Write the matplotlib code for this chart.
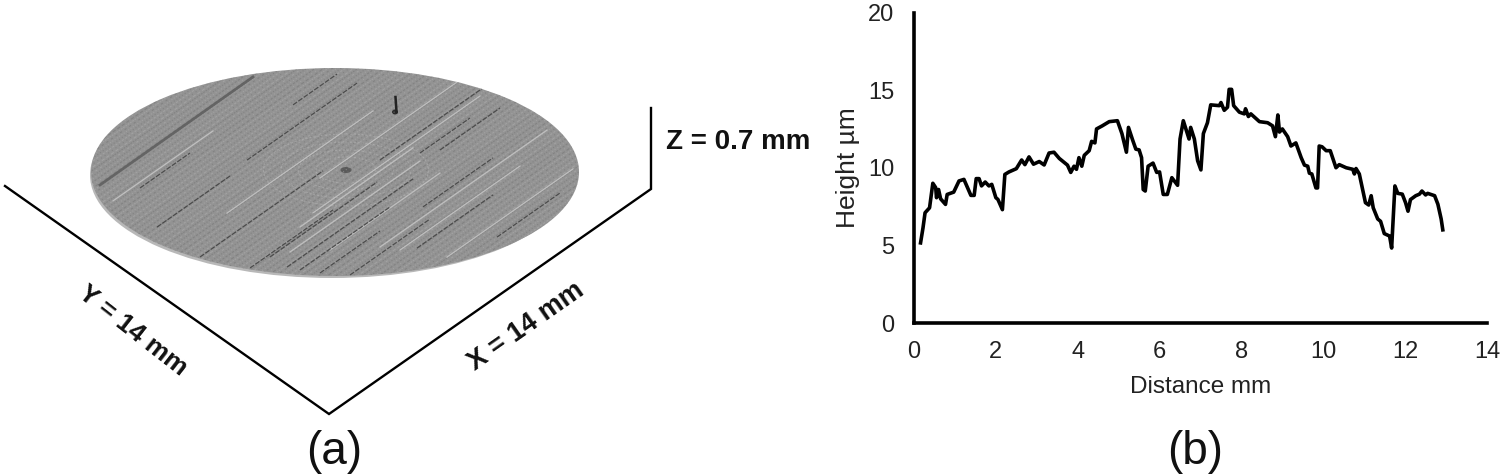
import matplotlib
matplotlib.use("Agg")
import matplotlib.pyplot as plt
from matplotlib.patches import Ellipse
import numpy as np

plt.rcParams['font.family'] = ['Liberation Sans', 'DejaVu Sans']

W, H = 1502, 475

# surface profile
distance = [0.16, 0.22, 0.27, 0.38, 0.46, 0.53, 0.55, 0.60, 0.65, 0.77, 0.81, 0.97, 1.10, 1.22, 1.39, 1.47,
            1.52, 1.59, 1.65, 1.74, 1.83, 1.90, 2.00, 2.05, 2.16, 2.22, 2.32, 2.50, 2.63, 2.71, 2.81, 2.92,
            3.06, 3.18, 3.30, 3.42, 3.55, 3.75, 3.83, 3.91, 3.97, 4.03, 4.10, 4.16, 4.28, 4.34, 4.42, 4.46,
            4.60, 4.77, 4.97, 5.08, 5.19, 5.24, 5.34, 5.42, 5.50, 5.56, 5.60, 5.65, 5.72, 5.84, 5.93, 6.00,
            6.09, 6.19, 6.30, 6.44, 6.50, 6.58, 6.72, 6.76, 6.85, 6.93, 7.01, 7.07, 7.17, 7.25, 7.46, 7.50,
            7.58, 7.66, 7.70, 7.76, 7.81, 7.95, 8.07, 8.10, 8.17, 8.23, 8.44, 8.64, 8.76, 8.83, 8.89, 8.93,
            9.00, 9.13, 9.21, 9.33, 9.46, 9.54, 9.62, 9.66, 9.72, 9.82, 9.86, 9.90, 9.97, 10.07, 10.17, 10.31,
            10.39, 10.56, 10.72, 10.76, 10.80, 10.88, 11.03, 11.11, 11.17, 11.22, 11.33, 11.40, 11.49, 11.62,
            11.67, 11.75, 11.82, 11.93, 12.01, 12.07, 12.13, 12.26, 12.35, 12.41, 12.50, 12.55, 12.72, 12.80,
            12.88, 12.92]
height = [5.16, 6.13, 7.10, 7.42, 9.00, 8.72, 8.07, 8.60, 8.00, 7.64, 8.28, 8.43, 9.15, 9.25, 8.22, 8.22,
          9.30, 9.30, 8.83, 9.08, 8.83, 8.93, 8.07, 7.96, 7.30, 9.57, 9.73, 9.94, 10.50, 10.20, 10.70, 10.23,
          10.40, 10.18, 10.95, 11.00, 10.60, 10.17, 9.70, 10.10, 9.90, 10.65, 10.10, 10.80, 11.10, 11.70, 11.60, 12.50,
          12.70, 12.97, 13.03, 12.20, 11.00, 12.60, 11.80, 11.20, 11.15, 10.65, 8.60, 8.50, 10.10, 10.30, 9.70, 9.73,
          8.28, 8.28, 9.36, 8.87, 11.85, 13.03, 11.85, 12.60, 11.85, 10.45, 9.86, 12.20, 12.90, 14.05, 14.00, 14.20,
          13.70, 13.90, 15.05, 15.05, 14.00, 13.58, 13.47, 13.80, 13.30, 13.47, 12.97, 12.90, 12.70, 12.00, 13.40, 12.30,
          12.50, 12.00, 11.40, 11.60, 10.65, 10.17, 10.10, 9.65, 9.60, 8.70, 8.70, 11.40, 11.35, 11.10, 11.10, 10.00,
          10.20, 10.00, 9.90, 9.60, 9.95, 9.60, 7.75, 7.60, 8.20, 7.42, 6.70, 6.55, 5.76, 5.60,
          4.83, 8.83, 8.35, 8.30, 7.75, 7.20, 7.95, 8.20, 8.30, 8.50, 8.25, 8.35, 8.20, 7.65,
          6.70, 6.00]
x_ticks = [0, 2, 4, 6, 8, 10, 12, 14]
y_ticks = [0, 5, 10, 15, 20]

# scratches on the disc: all run along y = c - 0.7 x, given as (c, x0, x1) in picture coordinates
dark_scratches = [(286, 140, 190), (337, 157, 230), (310, 293, 337), (333, 247, 357), (397, 200, 323),
                  (446, 270, 377), (468, 287, 413), (503, 423, 493), (447, 420, 470), (426, 380, 493),
                  (540, 417, 493), (497, 320, 380), (443, 250, 333), (585, 497, 560), (458, 440, 500),
                  (480, 300, 390), (520, 350, 430)]
light_scratches = [(402, 320, 457), (372, 227, 373), (437, 300, 413), (432, 313, 480), (513, 380, 547),
                   (570, 447, 573), (280, 113, 213), (481, 330, 440), (455, 290, 420), (530, 400, 520)]
dash_cycle = [(1, 2), (2, 1.5), (1, 3), (3, 2), (1.5, 1), (2, 3), (1, 1.5)]

fig = plt.figure(figsize=(W / 100, H / 100), dpi=100)

# panel (a) is drawn in picture coordinates
ax_a = fig.add_axes([0, 0, 1, 1])
ax_a.set_xlim(0, W)
ax_a.set_ylim(H, 0)
ax_a.axis('off')

ax_a.add_patch(Ellipse((332, 175), 484, 206, fc='#b8b8b8', ec='none'))
disc = Ellipse((335, 172), 488, 208, fc='#939393', ec='none')
ax_a.add_patch(disc)

# fine machining grain across the whole disc
for i, c in enumerate(np.arange(160, 680, 3)):
    colour = '#b4b4b4' if i % 2 == 0 else '#6e6e6e'
    l, = ax_a.plot([60, 620], [c - 42, c - 434], color=colour, lw=0.8, alpha=0.45,
                   ls=(i % 5, dash_cycle[i % len(dash_cycle)]))
    l.set_clip_path(disc)

# rings round the centre dimple
for w, h in [(60, 26), (95, 40), (130, 56), (165, 72)]:
    ring = Ellipse((346, 170), w, h, fc='none', ec='#b0b0b0', lw=0.8, alpha=0.6, ls=(0, (2, 1.5)))
    ax_a.add_patch(ring)

band, = ax_a.plot([100, 253], [185, 77], color='#5c5c5c', lw=2.0, alpha=0.85)
band.set_clip_path(disc)
for c, x0, x1 in light_scratches:
    l, = ax_a.plot([x0, x1], [c - 0.7 * x0, c - 0.7 * x1], color='#c4c4c4', lw=0.9, alpha=0.9)
    l.set_clip_path(disc)
for c, x0, x1 in dark_scratches:
    l, = ax_a.plot([x0, x1], [c - 0.7 * x0, c - 0.7 * x1], color='#3f3f3f', lw=0.9, alpha=0.85, ls=(0, (4, 1.2)))
    l.set_clip_path(disc)
ax_a.plot([395.5, 396.5], [97, 112], color='#222222', lw=1.8)
ax_a.add_patch(Ellipse((395, 112), 6, 5, fc='#2a2a2a', ec='none'))
ax_a.add_patch(Ellipse((346, 170), 11, 6, fc='#5a5a5a', ec='none'))

ax_a.plot([5, 329, 651, 651], [186, 414, 189, 108], color='black', lw=1.7, solid_joinstyle='miter')

ax_a.text(666, 142, 'Z = 0.7 mm', fontsize=20, fontweight='bold', color='#111111', ha='left', va='center')
ax_a.text(133, 331, 'Y = 14 mm', fontsize=19, fontweight='bold', color='#111111', rotation=-38,
          ha='center', va='center', rotation_mode='anchor')
ax_a.text(526, 327, 'X = 14 mm', fontsize=19.5, fontweight='bold', color='#111111', rotation=35,
          ha='center', va='center', rotation_mode='anchor')
ax_a.text(334, 452, '(a)', fontsize=33, color='#111111', ha='center', va='center')
ax_a.text(1195, 452, '(b)', fontsize=33, color='#111111', ha='center', va='center')

# panel (b)
ax = fig.add_axes([914 / W, 1 - 323 / H, (1487 - 914) / W, (323 - 12.5) / H])
ax.patch.set_alpha(0)
ax.plot(distance, height, color='black', lw=2.6, solid_joinstyle='round')
ax.set_xlim(0, 14)
ax.set_ylim(0, 20)
ax.set_xticks(x_ticks)
ax.set_yticks(y_ticks)
ax.tick_params(axis='x', length=0, pad=13, labelsize=17, labelcolor='#222222')
ax.tick_params(axis='y', length=0, pad=14, labelsize=17, labelcolor='#222222')
ax.set_xlabel('Distance mm', fontsize=17.5, color='#222222', labelpad=9)
ax.set_ylabel('Height µm', fontsize=19, color='#222222', labelpad=6)
ax.spines['top'].set_visible(False)
ax.spines['right'].set_visible(False)
ax.spines['left'].set_linewidth(2.6)
ax.spines['bottom'].set_linewidth(2.6)

fig.savefig('out.png', dpi=100)
